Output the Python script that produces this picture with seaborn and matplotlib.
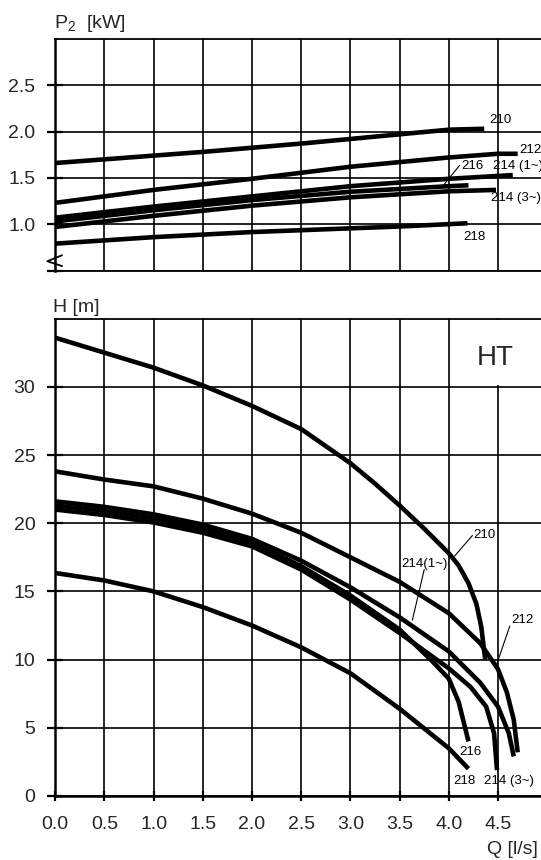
import numpy as np
import pandas as pd
import matplotlib
matplotlib.use("Agg")
import matplotlib.pyplot as plt
import seaborn as sns
from matplotlib.patches import Rectangle

# ---------------- data ----------------
# Power curves P2 [kW] vs Q [l/s]
p_210_q = [0.0, 0.5, 1.5, 2.5, 3.5, 4.0, 4.36]
p_210_v = [1.66, 1.70, 1.78, 1.87, 1.97, 2.02, 2.03]
p_212_q = [0.0, 1.0, 2.0, 3.0, 4.0, 4.5, 4.70]
p_212_v = [1.23, 1.37, 1.49, 1.62, 1.72, 1.76, 1.76]
p_2141_q = [0.0, 1.0, 2.0, 3.0, 4.0, 4.65]
p_2141_v = [1.07, 1.19, 1.30, 1.41, 1.49, 1.53]
p_216_q = [0.0, 1.0, 2.0, 3.0, 4.0, 4.20]
p_216_v = [1.03, 1.15, 1.26, 1.35, 1.41, 1.42]
p_2143_q = [0.0, 1.0, 2.0, 3.0, 4.0, 4.48]
p_2143_v = [0.97, 1.09, 1.20, 1.29, 1.355, 1.37]
p_218_q = [0.0, 1.0, 2.0, 2.5, 3.5, 4.19]
p_218_v = [0.79, 0.86, 0.915, 0.935, 0.975, 1.01]

# Head curves H [m] vs Q [l/s]
h_210_q = [0.0, 0.5, 1.0, 1.5, 2.0, 2.5, 3.0, 3.25, 3.5, 3.75, 4.0, 4.1, 4.2, 4.28, 4.33, 4.37]
h_210_v = [33.6, 32.5, 31.4, 30.1, 28.6, 26.9, 24.4, 22.9, 21.3, 19.6, 17.8, 16.9, 15.6, 14.1, 12.4, 10.0]
h_212_q = [0.0, 0.5, 1.0, 1.5, 2.0, 2.5, 3.0, 3.5, 4.0, 4.32, 4.5, 4.59, 4.66, 4.70]
h_212_v = [23.8, 23.2, 22.7, 21.8, 20.7, 19.3, 17.5, 15.7, 13.4, 11.2, 9.3, 7.6, 5.6, 3.2]
h_2141_q = [0.0, 0.5, 1.0, 1.5, 2.0, 2.5, 3.0, 3.5, 4.0, 4.32, 4.5, 4.61, 4.66]
h_2141_v = [21.6, 21.2, 20.65, 19.9, 18.85, 17.25, 15.3, 13.1, 10.6, 8.3, 6.55, 4.6, 2.9]
h_216_q = [0.0, 0.5, 1.0, 1.5, 2.0, 2.5, 3.0, 3.5, 3.83, 4.0, 4.1, 4.2]
h_216_v = [21.3, 20.9, 20.35, 19.6, 18.6, 16.85, 14.7, 12.2, 9.9, 8.6, 6.9, 4.0]
h_2143_q = [0.0, 0.5, 1.0, 1.5, 2.0, 2.5, 3.0, 3.5, 4.0, 4.22, 4.38, 4.46, 4.49]
h_2143_v = [21.0, 20.6, 20.05, 19.3, 18.3, 16.6, 14.4, 11.95, 9.36, 8.0, 6.55, 4.6, 1.9]
h_218_q = [0.0, 0.5, 1.0, 1.5, 2.0, 2.5, 3.0, 3.5, 4.0, 4.2]
h_218_v = [16.35, 15.8, 15.0, 13.85, 12.5, 10.9, 9.0, 6.4, 3.5, 2.0]

x_ticks = [0.0, 0.5, 1.0, 1.5, 2.0, 2.5, 3.0, 3.5, 4.0, 4.5]
x_tick_labels = ["0.0", "0.5", "1.0", "1.5", "2.0", "2.5", "3.0", "3.5", "4.0", "4.5"]
p_ticks = [0.5, 1.0, 1.5, 2.0, 2.5]
p_tick_labels = ["", "1.0", "1.5", "2.0", "2.5"]
h_ticks = [0, 5, 10, 15, 20, 25, 30]
h_tick_labels = ["0", "5", "10", "15", "20", "25", "30"]

# ---------------- style ----------------
sns.set_theme(style="whitegrid")
plt.rcParams["font.family"] = ["Liberation Sans", "DejaVu Sans"]
plt.rcParams["mathtext.fontset"] = "custom"
plt.rcParams["mathtext.rm"] = "Liberation Sans"

W, H = 541, 860
fig = plt.figure(figsize=(W / 100, H / 100), dpi=100)
fig.patch.set_facecolor("white")

x0 = 55.2
xscale = 98.4  # px per l/s
ax_w = 5.0 * xscale / W

ax_p = fig.add_axes([x0 / W, (H - 270.5) / H, ax_w, (270.5 - 38.9) / H])
ax_h = fig.add_axes([x0 / W, (H - 796) / H, ax_w, (796 - 318.6) / H])

LW = 3.3
BLACK = "black"

def draw(ax, q, v):
    df = pd.DataFrame({"Q": q, "V": v})
    sns.lineplot(data=df, x="Q", y="V", ax=ax, color=BLACK, lw=LW,
                 sort=False, estimator=None, solid_capstyle="butt",
                 solid_joinstyle="round", zorder=3)

for q, v in [(p_210_q, p_210_v), (p_212_q, p_212_v), (p_2141_q, p_2141_v),
             (p_216_q, p_216_v), (p_2143_q, p_2143_v), (p_218_q, p_218_v)]:
    draw(ax_p, q, v)
for q, v in [(h_210_q, h_210_v), (h_212_q, h_212_v), (h_2141_q, h_2141_v),
             (h_216_q, h_216_v), (h_2143_q, h_2143_v), (h_218_q, h_218_v)]:
    draw(ax_h, q, v)

for ax in (ax_p, ax_h):
    ax.set_facecolor("white")
    ax.set_xlim(0, 5.0)
    ax.set_xticks(x_ticks)
    ax.grid(True, color=BLACK, lw=1.2)
    ax.set_xlabel("")
    ax.set_ylabel("")
    for s in ("top", "right", "bottom"):
        ax.spines[s].set_color(BLACK)
        ax.spines[s].set_linewidth(1.3)
    ax.spines["left"].set_color(BLACK)
    ax.spines["left"].set_linewidth(1.8)
    ax.tick_params(axis="y", direction="inout", length=11.5, width=1.6,
                   color=BLACK, labelsize=14, pad=8.5, left=True)

ax_p.set_ylim(0.5, 3.0)
ax_p.set_yticks(p_ticks)
ax_p.set_yticklabels(p_tick_labels)
ax_p.set_xticklabels([])
ax_p.tick_params(axis="x", bottom=False, length=0)

ax_h.set_ylim(0, 35)
ax_h.set_yticks(h_ticks)
ax_h.set_yticklabels(h_tick_labels)
ax_h.set_xticklabels(x_tick_labels)
ax_h.spines["bottom"].set_linewidth(1.8)
ax_h.tick_params(axis="x", direction="inout", length=7, width=1.6,
                 color=BLACK, labelsize=14, pad=11, bottom=True)

# break symbol at the bottom of the power axis
ax_p.plot([0.014, -0.016, 0.014], [0.066, 0.040, 0.019], color=BLACK, lw=1.3,
          transform=ax_p.transAxes, clip_on=False, zorder=5)

# axis titles
fig.text(53.5 / W, (H - 28) / H, r"$\mathregular{P_2}$  [kW]", fontsize=14,
         ha="left", va="baseline")
fig.text(53.3 / W, (H - 311.5) / H, "H [m]", fontsize=14, ha="left", va="baseline")
fig.text(487 / W, (H - 849) / H, "Q [l/s]", fontsize=14, ha="left", va="center")

# curve labels, power panel
lab = dict(fontsize=9.5, color=BLACK, va="center", ha="left", clip_on=False)
ax_p.text(4.41, 2.12, "210", **lab)
ax_p.text(4.72, 1.80, "212", **lab)
ax_p.text(4.45, 1.63, "214 (1~)", **lab)
ax_p.text(4.13, 1.63, "216", **lab)
ax_p.text(4.43, 1.28, "214 (3~)", **lab)
ax_p.text(4.15, 0.86, "218", **lab)
ax_p.plot([3.93, 4.11], [1.40, 1.635], color=BLACK, lw=0.8, zorder=4)

# curve labels, head panel
ax_h.text(4.25, 19.1, "210", **lab)
ax_h.plot([4.06, 4.24], [17.6, 19.1], color=BLACK, lw=0.8, zorder=4)
ax_h.text(3.52, 17.0, "214(1~)", **lab)
ax_h.plot([3.75, 3.63], [16.6, 12.9], color=BLACK, lw=0.8, zorder=4)
ax_h.text(4.64, 12.87, "212", **lab)
ax_h.plot([4.62, 4.49], [12.46, 9.73], color=BLACK, lw=0.8, zorder=4)
ax_h.text(4.11, 3.19, "216", **lab)
ax_h.text(4.05, 1.1, "218", **lab)
ax_h.text(4.36, 1.1, "214 (3~)", **lab)

# HT label with white background masking the grid
ax_h.add_patch(Rectangle((4.08, 30.12), 1.2, 4.78, facecolor="white",
                         edgecolor="none", zorder=1.5))
ax_h.text(4.28, 31.6, "HT", fontsize=20, ha="left", va="baseline", zorder=6)

fig.savefig("out.png", dpi=100, facecolor="white")
